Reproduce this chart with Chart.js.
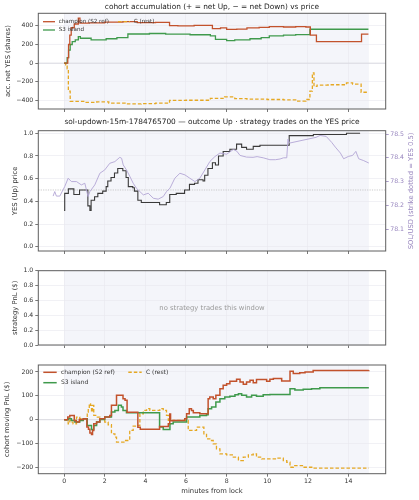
<!DOCTYPE html>
<html>
<head>
<meta charset="utf-8">
<script src="https://cdn.jsdelivr.net/npm/chart.js@4.4.1/dist/chart.umd.min.js"></script>
<style>
  html, body { margin: 0; padding: 0; background: #fff; }
  #fig { position: relative; width: 419px; height: 500px; }
  #fig canvas { position: absolute; left: 0; }
</style>
</head>
<body>
<div id="fig">
  <canvas id="acc" width="419" height="118" style="top:0px"></canvas>
  <canvas id="yes" width="419" height="140" style="top:118px"></canvas>
  <canvas id="strat" width="419" height="100" style="top:258px"></canvas>
  <canvas id="pnl" width="419" height="142" style="top:358px"></canvas>
</div>
<script>
// ---- data (minutes from lock) ----
const minuteTicks = [0, 2, 4, 6, 8, 10, 12, 14];
const windowStart = 0;
const windowEnd = 15;

// panel 1: accumulated net YES shares
const accTicks = [-400, -200, 0, 200, 400];
const accChampionMin = [0, 0.18, 0.22, 0.28, 0.35, 0.5, 0.7, 0.78, 1.2, 2.0, 2.9, 3.6, 4.5, 5.19, 5.6, 6.4, 7.3, 7.7, 8.0, 8.5, 9.0, 9.6, 10.1, 10.8, 11.4, 11.9, 12.12, 12.42, 14.64, 14.98];
const accChampionVal = [0, 60, 200, 300, 380, 420, 483, 430, 432, 440, 446, 435, 438, 403, 400, 405, 371, 378, 362, 365, 378, 385, 392, 388, 392, 388, 300, 230, 312, 312];
const accIslandMin = [0, 0.15, 0.22, 0.3, 0.4, 0.55, 0.7, 0.8, 1.33, 2.07, 2.6, 3.14, 4.2, 5.0, 6.2, 7.2, 7.45, 8.0, 8.4, 9.15, 9.7, 10.1, 10.8, 11.4, 12.1, 14.98];
const accIslandVal = [0, 60, 140, 200, 230, 250, 285, 267, 249, 262, 275, 313, 318, 312, 305, 292, 256, 241, 250, 262, 275, 292, 300, 306, 364, 364];
const accRestMin = [0, 0.08, 0.15, 0.21, 0.3, 1.0, 1.6, 2.2, 3.0, 3.8, 4.5, 5.19, 6.0, 7.2, 7.9, 8.4, 9.0, 10.0, 10.8, 11.4, 11.9, 12.1, 12.22, 12.3, 12.45, 13.0, 13.9, 14.2, 14.62, 14.98];
const accRestVal = [0, -20, -60, -300, -410, -420, -415, -430, -438, -435, -430, -400, -398, -378, -362, -380, -385, -390, -395, -408, -390, -300, -105, -250, -235, -232, -212, -225, -312, -312];

// panel 2: YES price and SOL/USD
const yesTicks = [0, 0.2, 0.4, 0.6, 0.8, 1.0];
const strikeYes = 0.5;
const yesMin = [0, 0.03, 0.21, 0.48, 0.76, 1.17, 1.27, 1.33, 1.5, 1.66, 1.9, 2.07, 2.15, 2.31, 2.48, 2.64, 2.89, 3.05, 3.16, 3.38, 3.46, 3.63, 3.8, 4.7, 5.03, 5.2, 5.52, 5.93, 6.17, 6.42, 6.59, 6.84, 6.92, 7.08, 7.3, 7.45, 7.6, 7.83, 8.16, 8.49, 8.74, 8.98, 9.31, 9.64, 11.08, 12.27, 13.9, 14.57];
const yesPrice = [0.32, 0.47, 0.51, 0.46, 0.5, 0.36, 0.32, 0.41, 0.44, 0.47, 0.49, 0.53, 0.58, 0.61, 0.65, 0.69, 0.67, 0.61, 0.53, 0.52, 0.49, 0.41, 0.39, 0.37, 0.39, 0.46, 0.47, 0.5, 0.55, 0.56, 0.59, 0.58, 0.63, 0.69, 0.74, 0.72, 0.80, 0.84, 0.86, 0.905, 0.876, 0.86, 0.885, 0.895, 0.98, 0.99, 1.0, 1.0];
const solTicks = [78.1, 78.2, 78.3, 78.4, 78.5];
const solMin = [-0.54, -0.46, -0.38, -0.21, 0.03, 0.2, 0.36, 0.61, 0.85, 1.02, 1.1, 1.18, 1.27, 1.51, 1.76, 2.0, 2.25, 2.5, 2.74, 2.83, 2.91, 3.07, 3.24, 3.4, 3.56, 3.73, 3.9, 4.14, 4.39, 4.63, 4.88, 5.04, 5.21, 5.45, 5.7, 5.95, 6.19, 6.44, 6.68, 6.93, 7.18, 7.42, 7.67, 8.0, 8.33, 8.5, 8.66, 8.98, 9.3, 9.5, 9.8, 10.13, 10.4, 10.63, 10.8, 10.96, 11.02, 11.1, 12.4, 12.6, 12.9, 13.17, 13.35, 13.6, 13.76, 14.0, 14.2, 14.36, 14.5, 14.75, 15.0];
const solPrice = [78.239, 78.258, 78.239, 78.239, 78.279, 78.314, 78.300, 78.300, 78.286, 78.293, 78.265, 78.237, 78.258, 78.286, 78.335, 78.349, 78.377, 78.384, 78.402, 78.398, 78.370, 78.349, 78.321, 78.293, 78.272, 78.258, 78.244, 78.251, 78.230, 78.226, 78.237, 78.258, 78.272, 78.314, 78.335, 78.328, 78.314, 78.300, 78.314, 78.349, 78.385, 78.405, 78.42, 78.415, 78.435, 78.428, 78.41, 78.403, 78.402, 78.405, 78.40, 78.392, 78.392, 78.395, 78.40, 78.40, 78.478, 78.462, 78.486, 78.494, 78.49, 78.465, 78.445, 78.42, 78.396, 78.406, 78.41, 78.427, 78.396, 78.388, 78.378];

// panel 3: strategy pnl (empty)
const stratTicks = [0, 0.2, 0.4, 0.6, 0.8, 1.0];

// panel 4: cohort moving pnl
const pnlTicks = [-200, -100, 0, 100, 200];
const pnlChampionMin = [0, 0.18, 0.28, 0.5, 0.6, 0.75, 0.95, 1.12, 1.2, 1.27, 1.35, 1.4, 1.46, 1.6, 1.76, 2.0, 2.25, 2.33, 2.58, 2.9, 3.0, 3.1, 3.63, 3.75, 4.7, 5.13, 5.2, 5.24, 5.37, 5.94, 6.03, 6.16, 6.27, 6.36, 6.68, 7.09, 7.17, 7.34, 7.47, 7.67, 7.83, 8.0, 8.16, 8.49, 8.66, 8.82, 8.98, 9.15, 9.31, 9.47, 9.97, 10.13, 10.3, 10.71, 11.12, 11.28, 11.6, 11.86, 12.26, 15.0];
const pnlChampionVal = [0, 11, 18, -3, -10, 1, 4, -31, -40, -56, -62, -45, -17, -10, 4, 11, 18, 60, 102, 88, 81, 31, -32, -40, -28, -17, 24, -4, -3, 4, 25, 46, 39, 29, 25, 88, 95, 88, 102, 130, 144, 151, 161, 169, 158, 148, 158, 165, 155, 168, 161, 169, 172, 162, 203, 193, 197, 200, 206, 207];
const pnlIslandMin = [0, 0.2, 0.36, 0.53, 0.77, 0.94, 1.14, 1.35, 1.46, 1.6, 1.76, 2.0, 2.33, 2.5, 2.67, 2.82, 2.9, 3.07, 4.7, 4.88, 5.21, 5.37, 6.03, 6.68, 7.01, 7.09, 7.26, 7.47, 7.67, 7.91, 8.16, 8.41, 8.58, 8.74, 8.98, 9.23, 9.47, 9.8, 10.13, 11.12, 11.36, 11.77, 12.18, 12.59, 15.0];
const pnlIslandVal = [0, 4, -3, -10, -3, 4, -24, -41, -24, -10, 1, 11, 32, 39, 60, 53, 39, 29, -31, -41, -17, -10, 11, 18, 21, 46, 53, 74, 88, 95, 98, 104, 109, 102, 95, 102, 98, 104, 106, 130, 124, 127, 130, 134, 134];
const pnlRestMin = [0, 0.1, 0.2, 0.28, 0.36, 0.44, 0.61, 0.77, 1.14, 1.19, 1.24, 1.3, 1.35, 1.4, 1.46, 1.6, 1.76, 2.0, 2.17, 2.33, 2.5, 2.58, 2.99, 3.23, 3.4, 3.56, 3.73, 3.9, 4.06, 4.22, 4.71, 4.88, 5.04, 5.13, 6.11, 6.52, 6.88, 7.01, 7.17, 7.34, 7.5, 7.67, 8.0, 8.33, 8.58, 8.82, 9.07, 9.31, 9.47, 9.72, 10.46, 10.79, 10.96, 11.12, 11.28, 11.77, 12.26, 15.0];
const pnlRestVal = [0, -3, -17, -3, -10, -17, 11, 4, 32, 46, 67, 60, 32, 60, 18, 11, 4, -10, -21, -59, -73, -94, -87, -45, -27, -24, 25, 39, 46, 39, 46, 39, 18, -3, -45, -31, -59, -80, -87, -101, -122, -143, -147, -157, -171, -157, -147, -143, -157, -164, -161, -171, -178, -199, -192, -199, -203, -203];

// ---- look ----
const FONT = "'DejaVu Sans', sans-serif";
const INK = '#333';
const GRID = '#e8e8ee';
const RED = '#c2522c';
const GREEN = '#3f9a4c';
const GOLD = '#e5a823';
const SOL = '#b2a5d5';
const SOL_INK = '#9684bd';
const PLOT_LEFT = 38.3;
const PLOT_RIGHT = 385.7;
const X_MIN = -1.27, X_MAX = 15.83;
const TICK_PX = 6.2, LABEL_PX = 6.8, TITLE_PX = 7.4;

const pts = (xs, ys) => xs.map((x, i) => ({ x: x, y: ys[i] }));
const signed = v => (v < 0 ? '\u2212' + Math.abs(v) : String(v));
const oneDec = v => v.toFixed(1);

function xAxis(h, showLabels, title) {
    return {
        type: 'linear', min: X_MIN, max: X_MAX,
        afterBuildTicks: s => { s.ticks = minuteTicks.map(v => ({ value: v })); },
        afterFit: s => { s.height = h; },
        ticks: { display: showLabels, color: INK, font: { family: FONT, size: TICK_PX }, padding: 1.3, maxRotation: 0, autoSkip: false },
        grid: { color: GRID, lineWidth: 0.6, tickColor: '#555', tickWidth: 0.8, tickLength: 3 },
        border: { display: false },
        title: title
            ? { display: true, text: title, color: INK, font: { family: FONT, size: LABEL_PX }, padding: { top: 0, bottom: 4.9 } }
            : { display: false }
    };
}

function yAxis(min, max, ticks, fmt, title, pad) {
    return {
        type: 'linear', position: 'left', min: min, max: max,
        afterBuildTicks: s => { s.ticks = ticks.map(v => ({ value: v })); },
        afterFit: s => { s.width = PLOT_LEFT; },
        ticks: { color: INK, font: { family: FONT, size: TICK_PX }, padding: 2, callback: fmt },
        grid: { color: GRID, lineWidth: 0.6, tickColor: '#555', tickWidth: 0.8, tickLength: 3 },
        border: { display: false },
        title: { display: true, text: title, color: INK, font: { family: FONT, size: LABEL_PX }, padding: { top: pad, bottom: 0 } }
    };
}

function line(label, data, color, opts) {
    return Object.assign({
        label: label, data: data, borderColor: color, borderWidth: 1.3,
        pointRadius: 0, tension: 0, stepped: true, fill: false
    }, opts || {});
}

// window shading, under the grid
const spanPlugin = {
    id: 'span',
    beforeDraw(chart) {
        const { ctx, chartArea: a, scales } = chart;
        const x0 = scales.x.getPixelForValue(windowStart);
        const x1 = scales.x.getPixelForValue(windowEnd);
        ctx.save();
        ctx.fillStyle = '#f4f5fa';
        ctx.fillRect(x0, a.top, x1 - x0, a.bottom - a.top);
        ctx.restore();
    }
};

function hline(value, color, dash) {
    return {
        id: 'hline',
        beforeDatasetsDraw(chart) {
            const { ctx, chartArea: a, scales } = chart;
            const y = scales.y.getPixelForValue(value);
            ctx.save();
            ctx.strokeStyle = color;
            ctx.lineWidth = 0.8;
            ctx.setLineDash(dash);
            ctx.beginPath();
            ctx.moveTo(a.left, y);
            ctx.lineTo(a.right, y);
            ctx.stroke();
            ctx.restore();
        }
    };
}

const framePlugin = {
    id: 'frame',
    afterDatasetsDraw(chart) {
        const { ctx, chartArea: a } = chart;
        ctx.save();
        ctx.strokeStyle = '#5e5e5e';
        ctx.lineWidth = 1;
        ctx.strokeRect(a.left, a.top, a.right - a.left, a.bottom - a.top);
        ctx.restore();
    }
};

// matplotlib-like legend inside the axes, 2 columns filled column first
function legendPlugin(cfg) {
    return {
        id: 'inlineLegend',
        afterDatasetsDraw(chart) {
            const { ctx, chartArea: a } = chart;
            ctx.save();
            ctx.font = cfg.size + 'px ' + FONT;
            ctx.textBaseline = 'middle';
            chart.data.datasets.forEach((ds, i) => {
                const col = i < 2 ? 0 : 1, row = i < 2 ? i : 0;
                const x0 = a.left + cfg.colX[col], y = a.top + cfg.rowY[row];
                ctx.strokeStyle = ds.borderColor;
                ctx.lineWidth = cfg.lw;
                ctx.setLineDash(ds.borderDash || []);
                ctx.beginPath();
                ctx.moveTo(x0, y);
                ctx.lineTo(x0 + cfg.len, y);
                ctx.stroke();
                ctx.setLineDash([]);
                ctx.fillStyle = INK;
                ctx.fillText(ds.label, x0 + cfg.len + cfg.gap, y);
            });
            ctx.restore();
        }
    };
}

const solTitlePlugin = {
    id: 'solTitle',
    afterDraw(chart) {
        const { ctx, chartArea: a } = chart;
        ctx.save();
        ctx.translate(411, (a.top + a.bottom) / 2);
        ctx.rotate(-Math.PI / 2);
        ctx.font = LABEL_PX + 'px ' + FONT;
        ctx.fillStyle = SOL_INK;
        ctx.textAlign = 'center';
        ctx.textBaseline = 'middle';
        ctx.fillText('SOL/USD (strike dotted = YES 0.5)', 0, 0);
        ctx.restore();
    }
};

const notePlugin = {
    id: 'note',
    afterDraw(chart) {
        const { ctx, chartArea: a } = chart;
        ctx.save();
        ctx.font = LABEL_PX + 'px ' + FONT;
        ctx.fillStyle = '#999';
        ctx.textAlign = 'center';
        ctx.textBaseline = 'middle';
        ctx.fillText('no strategy trades this window', (a.left + a.right) / 2, (a.top + a.bottom) / 2);
        ctx.restore();
    }
};

function titleOpts(text, top, bottom) {
    return {
        display: true, text: text, fullSize: false, color: '#222',
        font: { family: FONT, size: TITLE_PX, weight: 'normal' },
        padding: { top: top, bottom: bottom }
    };
}

const base = {
    responsive: false, animation: false, devicePixelRatio: 1,
    events: []
};

// panel 1
new Chart('acc', {
    type: 'line',
    data: {
        datasets: [
            line('champion (S2 ref)', pts(accChampionMin, accChampionVal), RED),
            line('S3 island', pts(accIslandMin, accIslandVal), GREEN),
            line('C (rest)', pts(accRestMin, accRestVal), GOLD, { borderDash: [3.5, 2] })
        ]
    },
    options: Object.assign({}, base, {
        layout: { padding: { left: 0, right: 419 - PLOT_RIGHT, top: 0, bottom: 0 } },
        scales: {
            x: xAxis(9, false),
            y: yAxis(-492, 535, accTicks, signed, 'acc. net YES (shares)', 4.2)
        },
        plugins: {
            legend: { display: false }, tooltip: { enabled: false },
            title: titleOpts('cohort accumulation (+ = net Up, \u2212 = net Down) vs price', 2.56, 1.86)
        }
    }),
    plugins: [spanPlugin, hline(0, '#d4d4da', []), framePlugin,
        legendPlugin({ size: 5.6, colX: [4.7, 79.7], rowY: [8.4, 16.7], len: 12, gap: 3.7, lw: 1.3 })]
});

// panel 2
new Chart('yes', {
    type: 'line',
    data: {
        datasets: [
            line('SOL/USD', pts(solMin, solPrice), SOL, { stepped: false, borderWidth: 0.9, yAxisID: 'sol' }),
            line('YES (Up)', pts(yesMin, yesPrice), '#3a3a3a', { borderWidth: 1.1 })
        ]
    },
    options: Object.assign({}, base, {
        layout: { padding: { left: 0, right: 0, top: 0, bottom: 0 } },
        scales: {
            x: xAxis(7, false),
            y: yAxis(-0.038, 1.023, yesTicks, oneDec, 'YES (Up) price', 10.9),
            sol: {
                type: 'linear', position: 'right', min: 78.008, max: 78.514,
                afterBuildTicks: s => { s.ticks = solTicks.map(v => ({ value: v })); },
                afterFit: s => { s.width = 419 - PLOT_RIGHT; },
                ticks: { color: SOL_INK, font: { family: FONT, size: TICK_PX }, padding: 1.5, callback: oneDec },
                grid: { drawOnChartArea: false, tickColor: SOL_INK, tickWidth: 0.8, tickLength: 3 },
                border: { display: false },
                title: { display: false }
            }
        },
        plugins: {
            legend: { display: false }, tooltip: { enabled: false },
            title: titleOpts('sol-updown-15m-1784765700 \u2014 outcome Up \u00b7 strategy trades on the YES price', 0, 3.82)
        }
    }),
    plugins: [spanPlugin, hline(strikeYes, '#bdbdbd', [1.2, 1.2]), framePlugin, solTitlePlugin]
});

// panel 3
new Chart('strat', {
    type: 'line',
    data: { datasets: [] },
    options: Object.assign({}, base, {
        layout: { padding: { left: 0, right: 419 - PLOT_RIGHT, top: 12.7, bottom: 0 } },
        scales: {
            x: xAxis(13, false),
            y: yAxis(0, 1, stratTicks, oneDec, 'strategy PnL ($)', 11.6)
        },
        plugins: { legend: { display: false }, tooltip: { enabled: false } }
    }),
    plugins: [spanPlugin, framePlugin, notePlugin]
});

// panel 4
new Chart('pnl', {
    type: 'line',
    data: {
        datasets: [
            line('champion (S2 ref)', pts(pnlChampionMin, pnlChampionVal), RED, { borderWidth: 1.5 }),
            line('S3 island', pts(pnlIslandMin, pnlIslandVal), GREEN, { borderWidth: 1.5 }),
            line('C (rest)', pts(pnlRestMin, pnlRestVal), GOLD, { borderWidth: 1.3, borderDash: [3.5, 2] })
        ]
    },
    options: Object.assign({}, base, {
        layout: { padding: { left: 0, right: 419 - PLOT_RIGHT, top: 7, bottom: 0 } },
        scales: {
            x: xAxis(26.3, true, 'minutes from lock'),
            y: yAxis(-226, 229, pnlTicks, signed, 'cohort moving PnL ($)', 3.4)
        },
        plugins: { legend: { display: false }, tooltip: { enabled: false } }
    }),
    plugins: [spanPlugin, hline(0, '#d4d4da', []), framePlugin,
        legendPlugin({ size: 6, colX: [5, 90], rowY: [7.3, 17.7], len: 13.4, gap: 4.3, lw: 1.5 })]
});
</script>
</body>
</html>
